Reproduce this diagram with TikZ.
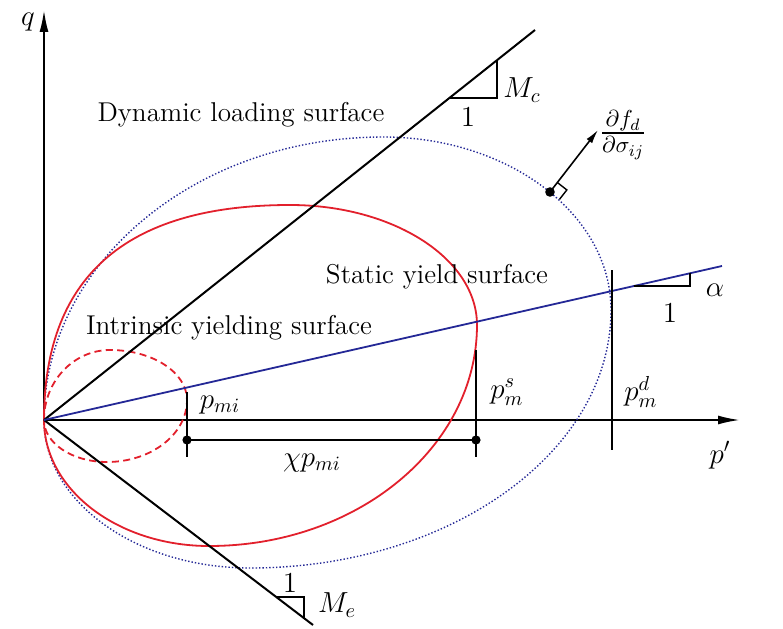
\RequirePackage{fix-cm}
\documentclass[tikz,border=0pt]{standalone}
\usepackage{amsmath,amssymb}
\usepackage{xcolor}
\usepackage{tikz}
\usetikzlibrary{arrows.meta}
\definecolor{surfred}{RGB}{226,32,44}
\definecolor{surfblue}{RGB}{36,40,150}
\tikzset{axis/.style={line width=1pt,-{Latex[length=11pt,width=4.5pt]}},
    thickline/.style={line width=1pt},
    triline/.style={line width=0.9pt},
    alphaline/.style={surfblue,line width=0.9pt},
    statsurf/.style={surfred,line width=0.9pt},
    intrsurf/.style={surfred,line width=0.9pt,dash pattern=on 3.5pt off 2.2pt},
    dynsurf/.style={surfblue,line width=0.7pt,densely dotted},
    lbl/.style={font=\fontsize{13.6}{16}\selectfont,inner sep=1pt},
    mathlbl/.style={font=\fontsize{14.5}{17}\selectfont,inner sep=1pt}}

\begin{document}
\begin{tikzpicture}[x=0.5pt,y=0.5pt]
    \useasboundingbox (-44,-208) rectangle (739,420);
    \coordinate (O) at (0, 0);
    \coordinate (Qtop) at (0, 410);
    \coordinate (Pend) at (696, 0);

    \draw[axis] (O) -- (Qtop);
    \draw[axis] (O) -- (Pend);
    \node[mathlbl] (qlbl) at (-16, 398) {$q$};
    \node[mathlbl] (plbl) at (676, -35) {$p'$};

    % surfaces, one quarter arc at a time
    \draw[dynsurf] (O) arc[start angle=180, end angle=90, x radius=339, y radius=283]
        arc[start angle=90, end angle=0, x radius=228, y radius=173]
        arc[start angle=0, end angle=-90, x radius=361, y radius=258]
        arc[start angle=270, end angle=180, x radius=206, y radius=148] -- cycle;
    \draw[statsurf] (O) .. controls (0, 150) and (90, 215) .. (246, 215)
        arc[start angle=90, end angle=0, x radius=187, y radius=120]
        arc[start angle=0, end angle=-90, x radius=268, y radius=221]
        arc[start angle=270, end angle=180, x radius=165, y radius=126] -- cycle;
    \draw[intrsurf] (O) arc[start angle=180, end angle=90, x radius=66, y radius=70]
        arc[start angle=90, end angle=0, x radius=77, y radius=50]
        arc[start angle=0, end angle=-90, x radius=80, y radius=62]
        arc[start angle=270, end angle=180, x radius=63, y radius=42] -- cycle;

    % critical state lines
    \coordinate (C1) at (491, 390);
    \coordinate (E1) at (269, -205);
    \draw[thickline] (O) -- (C1);
    \draw[thickline] (O) -- (E1);
    \coordinate (Ca) at (406, 322);
    \coordinate (Cb) at (453, 322);
    \coordinate (Cc) at (453, 360);
    \draw[triline] (Ca) -- (Cb) -- (Cc);
    \coordinate (Ea) at (233, -177);
    \coordinate (Eb) at (260, -177);
    \coordinate (Ec) at (260, -197.6);
    \draw[triline] (Ea) -- (Eb) -- (Ec);
    \node[mathlbl] (Mc) at (478, 330) {$M_c$};
    \node[mathlbl] (Mcone) at (424, 303) {$1$};
    \node[mathlbl] (Me) at (293, -185) {$M_e$};
    \node[mathlbl] (Meone) at (246, -163) {$1$};

    % alpha line
    \coordinate (A1) at (678, 154);
    \draw[alphaline] (O) -- (A1);
    \coordinate (Aa) at (590, 134);
    \coordinate (Ab) at (646, 134);
    \coordinate (Ac) at (646, 146.6);
    \draw[triline] (Aa) -- (Ab) -- (Ac);
    \node[mathlbl] (alp) at (671, 130) {$\alpha$};
    \node[mathlbl] (alpone) at (626, 107) {$1$};

    % pressures
    \coordinate (Pi1) at (143, 28);
    \coordinate (Pi2) at (143, -37);
    \coordinate (Ps1) at (432, 70);
    \coordinate (Ps2) at (432, -37);
    \coordinate (Pd1) at (568, 150);
    \coordinate (Pd2) at (568, -30);
    \draw[thickline] (Pi1) -- (Pi2);
    \draw[thickline] (Ps1) -- (Ps2);
    \draw[thickline] (Pd1) -- (Pd2);
    \node[mathlbl] (pmi) at (176, 15) {$p_{mi}$};
    \node[mathlbl] (pms) at (463, 28) {$p_m^s$};
    \node[mathlbl] (pmd) at (597, 28) {$p_m^d$};

    \coordinate (D1) at (143, -20);
    \coordinate (D2) at (432, -20);
    \draw[thickline] (D1) -- (D2);
    \fill (D1) circle (2.3pt);
    \fill (D2) circle (2.3pt);
    \node[mathlbl] (chi) at (268, -43) {$\chi p_{mi}$};

    % normal to dynamic surface
    \coordinate (N0) at (506, 228);
    \coordinate (N1) at (554, 290);
    \draw[line width=0.8pt,-{Latex[length=7pt,width=3.5pt]}] (N0) -- (N1);
    \begin{scope}[shift={(N0)},rotate=52]
        \draw[line width=0.7pt] (12, 0) -- (12, -12) -- (0, -12);
    \end{scope}
    \fill (N0) circle (2.4pt);
    \node[font=\fontsize{16.5}{19}\selectfont,inner sep=1pt] (grad) at (579, 285) {$\frac{\partial f_d}{\partial \sigma_{ij}}$};

    % names of surfaces
    \node[lbl] (dyn) at (197, 305) {Dynamic loading surface};
    \node[lbl] (stat) at (393, 143) {Static yield surface};
    \node[lbl] (intr) at (185, 92) {Intrinsic yielding surface};
\end{tikzpicture}
\end{document}
